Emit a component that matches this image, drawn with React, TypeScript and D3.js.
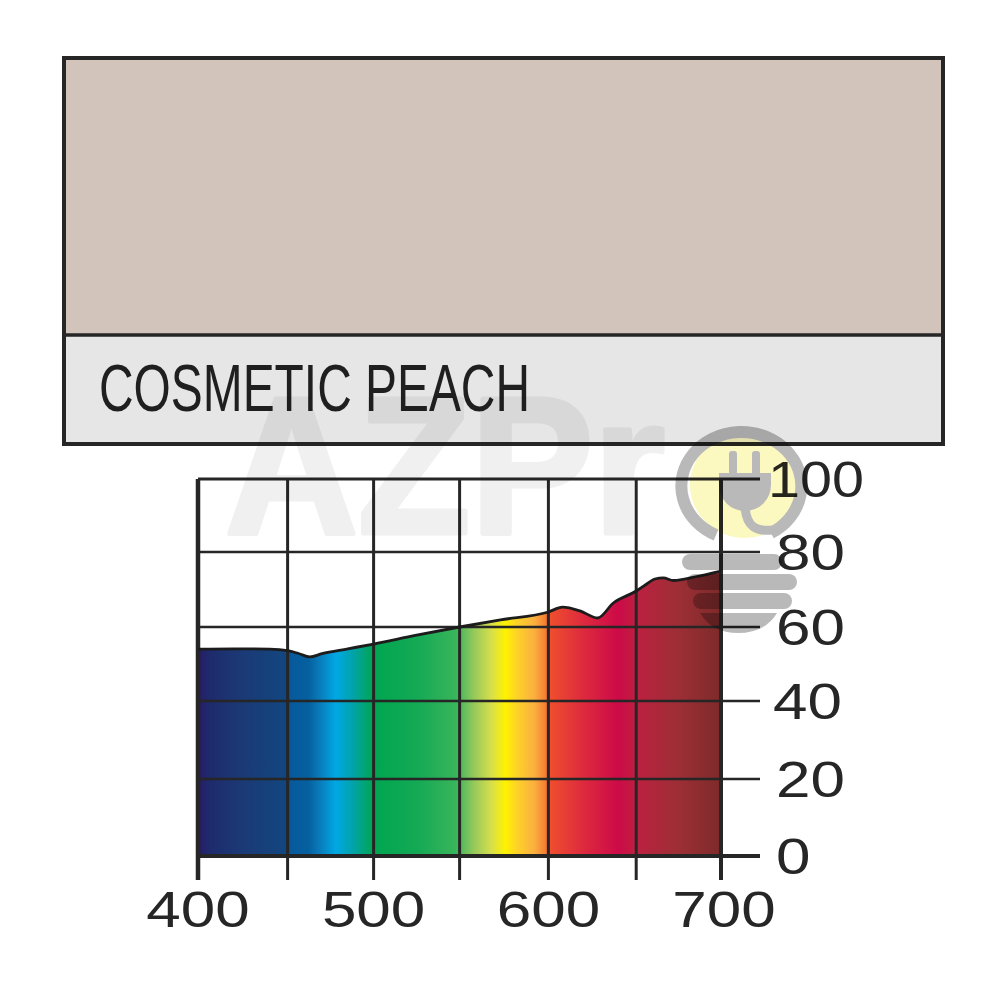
import React from "react";
import * as d3 from "d3";

const title = "COSMETIC PEACH";
const watermark = "AZPr";
const xTicks = [400, 450, 500, 550, 600, 650, 700];
const xLabels = [400, 500, 600, 700];
const yTicks = [0, 20, 40, 60, 80, 100];
const wavelengths = [400, 420, 440, 450, 456, 463, 470, 485, 500, 525, 550, 573, 600, 608, 618, 628, 637, 650, 655, 661, 666, 672, 685, 700];
const transmission = [54, 54.1, 54, 53.6, 52.9, 51.9, 52.8, 54.1, 55.4, 57.8, 60, 61.9, 64, 65.3, 64.3, 62.4, 66.4, 69.6, 71.1, 72.8, 73.1, 72.4, 73.4, 74.9];
const stopNm = [400, 406, 425, 449, 452, 462, 468, 478, 487, 500, 525, 548, 558, 568, 576, 582, 592, 598, 601, 620, 640, 650, 675, 700];
const stopColor = ["#291a68", "#1e2a6c", "#1b3a76", "#12467f", "#075a9c", "#05609f", "#0a78b8", "#00a8e4", "#02a3b0", "#00a650", "#14a955", "#39b55a", "#95c85c", "#d8df4a", "#fff200", "#fdd327", "#fbb040", "#f58233", "#ef4e2e", "#dd2a3e", "#cc0a48", "#bd2040", "#9c2f36", "#7e2a2a"];

const INK = "#262626";

export default function App() {
  const x = d3.scaleLinear().domain(xTicks).range([198, 287.6, 373.6, 459.6, 548.4, 636.2, 721]);
  const y = d3.scaleLinear().domain(yTicks).range([856, 779, 701, 627, 552, 479]);
  const pts = wavelengths.map((w, i) => [w, transmission[i]] as [number, number]);
  const area = d3.area<[number, number]>().x(d => x(d[0])).y0(y(0)).y1(d => y(d[1])).curve(d3.curveMonotoneX)(pts) || "";
  const line = d3.line<[number, number]>().x(d => x(d[0])).y(d => y(d[1])).curve(d3.curveMonotoneX)(pts) || "";
  const fontX = "'Liberation Sans', Arial, sans-serif";
  const multiply = { mixBlendMode: "multiply" } as React.CSSProperties;
  const numeral = (label: number, px: number, py: number, anchor: "middle" | "start", sx = 1.24) => (
    <text key={`${anchor}-${label}`} transform={`translate(${px},${py}) scale(${sx},1)`} textAnchor={anchor}
      fontFamily={fontX} fontSize={50} fill={INK}>{label}</text>
  );
  return (
    <svg width={1000} height={1000} viewBox="0 0 1000 1000" style={{ position: "absolute", left: 0, top: 0, display: "block", background: "#fff" }}>
      <defs>
        <linearGradient id="spectrum" gradientUnits="userSpaceOnUse" x1={x(400)} x2={x(700)} y1={0} y2={0}>
          {stopNm.map((nm, i) => (
            <stop key={nm} offset={(x(nm) - x(400)) / (x(700) - x(400))} stopColor={stopColor[i]} />
          ))}
        </linearGradient>
      </defs>

      <rect x={64} y={58} width={879} height={277} fill="#d2c4ba" />
      <rect x={64} y={335} width={879} height={109} fill="#e6e6e6" />
      <rect x={64} y={58} width={879} height={386} fill="none" stroke={INK} strokeWidth={4} />
      <line x1={64} x2={943} y1={335} y2={335} stroke={INK} strokeWidth={3.5} />
      <text x={99} y={411} fontFamily="'Liberation Sans Narrow', 'Liberation Sans', sans-serif" fontSize={66}
        fill="#1f1f1f" textLength={431} lengthAdjust="spacingAndGlyphs">{title}</text>

      <path d={area} fill="url(#spectrum)" />
      {yTicks.map(t => (
        <line key={t} x1={x(400)} x2={760} y1={y(t)} y2={y(t)} stroke={INK}
          strokeWidth={t === 0 ? 4 : t === 100 ? 3.2 : 2.6} />
      ))}
      {xTicks.map(t => (
        <line key={t} x1={x(t)} x2={x(t)} y1={y(100)} y2={880} stroke={INK}
          strokeWidth={t === 400 ? 4.5 : t === 700 ? 4 : 3} />
      ))}
      <path d={line} fill="none" stroke="#1c1c1c" strokeWidth={2.8} />

      {xLabels.map(t => numeral(t, x(t) + (t === 700 ? 3 : 0), 927, "middle"))}
      {yTicks.map(t => numeral(t, t === 100 ? 768 : t === 40 ? 773 : 776, y(t) + 18, "start", t === 100 ? 1.15 : 1.24))}

      <text x={225} y={533} fontFamily="'Liberation Sans', sans-serif" fontWeight={700} fontSize={195}
        fill="#f0f0f0" stroke="#f0f0f0" strokeWidth={5} strokeLinejoin="round" textLength={440} lengthAdjust="spacingAndGlyphs" style={multiply}>{watermark}</text>
      <g style={multiply}>
        <ellipse cx={745} cy={485} rx={55} ry={53} fill="#fbf8c0" />
        <path d="M716 535 A60 54 0 1 1 771 533" fill="none" stroke="#b9b9b9" strokeWidth={12} />
        <path d="M745 508 C747 526 755 532 773 530" fill="none" stroke="#b9b9b9" strokeWidth={9} />
        <rect x={729} y={451} width={8} height={24} rx={3} fill="#b9b9b9" />
        <rect x={752} y={451} width={8} height={24} rx={3} fill="#b9b9b9" />
        <path d="M719 473 H771 V485 A26 26 0 0 1 719 485 Z" fill="#b9b9b9" />
        <rect x={682} y={554} width={100} height={16} rx={8} fill="#b9b9b9" />
        <rect x={687} y={574} width={110} height={16} rx={8} fill="#b9b9b9" />
        <rect x={693} y={593} width={99} height={16} rx={8} fill="#b9b9b9" />
        <path d="M700 613 H777 Q765 633 738 633 Q712 633 700 613 Z" fill="#b9b9b9" />
      </g>
    </svg>
  );
}
